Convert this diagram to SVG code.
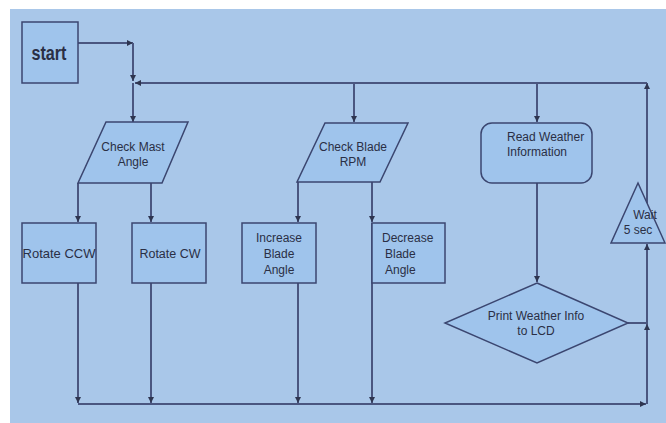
<svg xmlns="http://www.w3.org/2000/svg" width="666" height="423" viewBox="0 0 666 423">
<defs>
<marker id="ah" viewBox="0 0 8 8" refX="8" refY="4" markerWidth="6" markerHeight="6" orient="auto" markerUnits="userSpaceOnUse">
<path d="M0,0 L8,4 L0,8 z" fill="#2e3550"/>
</marker>
<style>
.node{fill:#9fc4ec;stroke:#3b4670;stroke-width:1.5}
.ln{fill:none;stroke:#4a5680;stroke-width:2}
.t{font-family:"Liberation Sans",Arial,sans-serif;font-size:12px;fill:#2a2f45;text-anchor:middle}
.tl{font-family:"Liberation Sans",Arial,sans-serif;font-size:12px;fill:#2a2f45;text-anchor:start}
</style>
</defs>
<rect x="0" y="0" width="666" height="423" fill="#ffffff"/>
<rect x="10" y="9" width="656" height="414" fill="#a9c7e9"/>

<g id="connectors">
<path class="ln" d="M78,43 H133" marker-end="url(#ah)"/>
<path class="ln" d="M133,43 V81" marker-end="url(#ah)"/>
<path class="ln" d="M647,83 H135" marker-end="url(#ah)"/>
<path class="ln" d="M133,83 V122" marker-end="url(#ah)"/>
<path class="ln" d="M354,83 V122" marker-end="url(#ah)"/>
<path class="ln" d="M537,83 V122" marker-end="url(#ah)"/>
<path class="ln" d="M78,183 V222" marker-end="url(#ah)"/>
<path class="ln" d="M151,183 V222" marker-end="url(#ah)"/>
<path class="ln" d="M298,182 V222" marker-end="url(#ah)"/>
<path class="ln" d="M372,182 V222" marker-end="url(#ah)"/>
<path class="ln" d="M537,183 V282" marker-end="url(#ah)"/>
<path class="ln" d="M78,283 V403" marker-end="url(#ah)"/>
<path class="ln" d="M151,283 V403" marker-end="url(#ah)"/>
<path class="ln" d="M298,283 V403" marker-end="url(#ah)"/>
<path class="ln" d="M372,223 V403" marker-end="url(#ah)"/>
<path class="ln" d="M78,404 H646" marker-end="url(#ah)"/>
<path class="ln" d="M647,404 V324" marker-end="url(#ah)"/>
<path class="ln" d="M628,323 H647"/>
<path class="ln" d="M647,324 V244" marker-end="url(#ah)"/>
<path class="ln" d="M647,206 V83" marker-end="url(#ah)"/>
</g>

<g id="start">
<rect class="node" x="22" y="22" width="56" height="61"/>
<text class="t" x="49" y="60" style="font-size:20px;font-weight:bold" textLength="35" lengthAdjust="spacingAndGlyphs">start</text>
</g>

<g id="check-mast">
<path class="node" d="M106,122 H188 L162,183 H78 Z"/>
<text class="t" x="133" y="151">Check Mast</text>
<text class="t" x="133" y="166">Angle</text>
</g>

<g id="check-blade">
<path class="node" d="M325,123 H408 L380,182 H297 Z"/>
<text class="t" x="353" y="151">Check Blade</text>
<text class="t" x="353" y="166">RPM</text>
</g>

<g id="read-weather">
<rect class="node" x="481" y="123" width="111" height="60" rx="11"/>
<text class="tl" x="507" y="141">Read Weather</text>
<text class="tl" x="507" y="156">Information</text>
</g>

<g id="rotate-ccw">
<rect class="node" x="22" y="223" width="74" height="60"/>
<text class="t" x="59" y="258" style="font-size:13px">Rotate CCW</text>
</g>

<g id="rotate-cw">
<rect class="node" x="132" y="223" width="74" height="60"/>
<text class="t" x="170" y="258" style="font-size:12.5px">Rotate CW</text>
</g>

<g id="increase">
<rect class="node" x="242" y="223" width="74" height="60"/>
<text class="t" x="279" y="242">Increase</text>
<text class="t" x="279" y="258">Blade</text>
<text class="t" x="279" y="274">Angle</text>
</g>

<g id="decrease">
<rect class="node" x="372" y="223" width="73" height="60"/>
<text class="tl" x="382" y="242">Decrease</text>
<text class="tl" x="385" y="258">Blade</text>
<text class="tl" x="385" y="274">Angle</text>
</g>

<g id="print-weather">
<path class="node" d="M537,283 L628,323 L537,363 L445,323 Z"/>
<text class="t" x="536" y="320">Print Weather Info</text>
<text class="t" x="536" y="335">to LCD</text>
</g>

<g id="wait">
<path class="node" d="M638,183 L665,243 H611 Z"/>
<text class="t" x="645" y="219">Wait</text>
<text class="t" x="638" y="234">5 sec</text>
</g>
</svg>
